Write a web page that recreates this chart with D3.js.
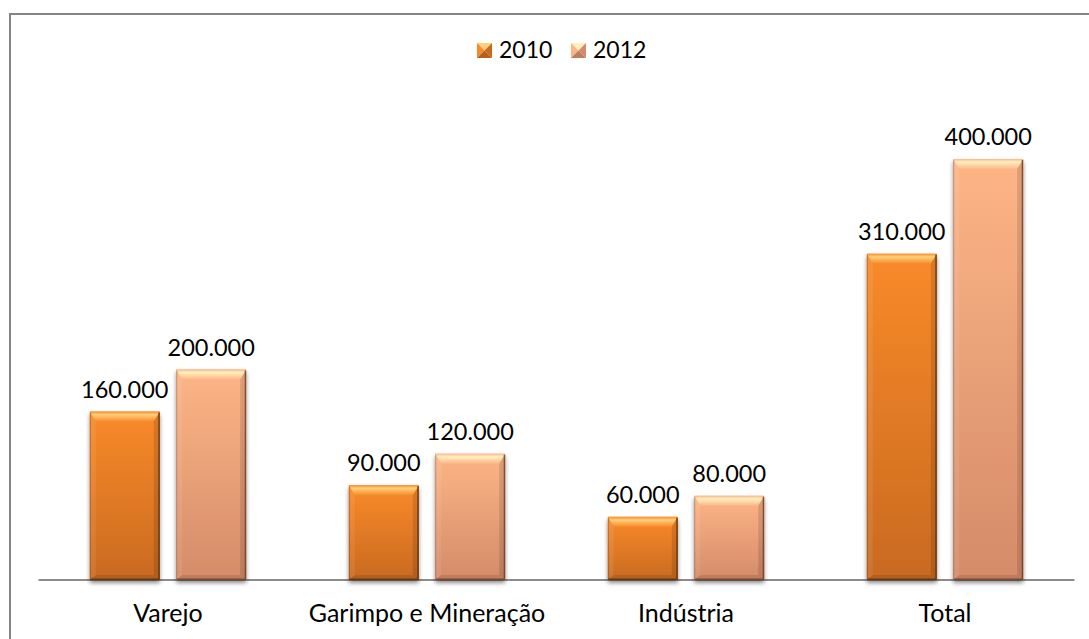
<!DOCTYPE html>
<html>
<head>
<meta charset="utf-8">
<script src="https://cdn.jsdelivr.net/npm/d3@7"></script>
<style>
  html, body { margin: 0; padding: 0; background: #fff; }
  svg { display: block; }
  text { font-family: Lato, "Open Sans", "DejaVu Sans", sans-serif; fill: #000; }
</style>
</head>
<body>
<svg id="chart" width="1089" height="639"></svg>
<script>
// Chart data
const categories = ["Varejo", "Garimpo e Mineração", "Indústria", "Total"];
const seriesNames = ["2010", "2012"];
const values2010 = [160000, 90000, 60000, 310000];
const values2012 = [200000, 120000, 80000, 400000];

const seriesValues = { "2010": values2010, "2012": values2012 };

// Fill palette per series: top, bottom, bevel highlight, edge
const palette = {
  "2010": { top: "#f98a2a", bottom: "#c96a21", hi: "#ffd07a", edge: "#5a2c08" },
  "2012": { top: "#fdb586", bottom: "#d48b69", hi: "#fff0c0", edge: "#6b3a22" }
};

const W = 1089, H = 639;
const svg = d3.select("#chart");
const defs = svg.append("defs");

// Number format with Brazilian thousands separator
const ptBR = d3.formatLocale({ decimal: ",", thousands: ".", grouping: [3], currency: ["R$", ""] });
const fmt = ptBR.format(",");

// Scales
const x0 = d3.scaleBand()
  .domain(categories)
  .range([38.5, 1074.5])
  .paddingInner(0.396)
  .paddingOuter(0.198);

const x1 = d3.scaleBand()
  .domain(seriesNames)
  .range([0, x0.bandwidth()])
  .paddingInner(0.19);

const y = d3.scaleLinear()
  .domain([0, 450000])
  .range([580, 106.4]);

// Gradients and shadow
seriesNames.forEach(s => {
  const p = palette[s];
  const g = defs.append("linearGradient").attr("id", "body" + s)
    .attr("x1", 0).attr("y1", 0).attr("x2", 0).attr("y2", 1);
  g.append("stop").attr("offset", "0%").attr("stop-color", p.top);
  g.append("stop").attr("offset", "100%").attr("stop-color", p.bottom);

  const t = defs.append("linearGradient").attr("id", "bevelTop" + s)
    .attr("x1", 0).attr("y1", 0).attr("x2", 0).attr("y2", 1);
  t.append("stop").attr("offset", "0%").attr("stop-color", p.top);
  t.append("stop").attr("offset", "30%").attr("stop-color", p.hi);
  t.append("stop").attr("offset", "100%").attr("stop-color", p.top);
});

const shadow = defs.append("filter").attr("id", "shadow")
  .attr("x", "-20%").attr("y", "-20%").attr("width", "140%").attr("height", "140%");
shadow.append("feDropShadow")
  .attr("dx", 0).attr("dy", 3).attr("stdDeviation", 2.2)
  .attr("flood-color", "#000").attr("flood-opacity", 0.45);

// Outer frame
svg.append("rect")
  .attr("x", 10).attr("y", 14)
  .attr("width", W + 20).attr("height", H + 20)
  .attr("fill", "none")
  .attr("stroke", "#858585")
  .attr("stroke-width", 2);

// Category axis line
svg.append("line")
  .attr("x1", x0.range()[0]).attr("x2", x0.range()[1])
  .attr("y1", y(0)).attr("y2", y(0))
  .attr("stroke", "#8c8c8c")
  .attr("stroke-width", 2);

// Bars with a soft bevel
const rows = [];
categories.forEach((c, i) => {
  seriesNames.forEach(s => rows.push({ cat: c, series: s, value: seriesValues[s][i] }));
});

const bars = svg.append("g").selectAll("g.bar")
  .data(rows)
  .join("g")
  .attr("class", "bar");

bars.each(function (d) {
  const g = d3.select(this);
  const p = palette[d.series];
  const bx = x0(d.cat) + x1(d.series);
  const bw = x1.bandwidth();
  const by = y(d.value);
  const bh = y(0) - by;
  const bt = 10, bs = 6, bb = 5;

  g.append("rect")
    .attr("x", bx).attr("y", by).attr("width", bw).attr("height", bh)
    .attr("fill", `url(#body${d.series})`)
    .attr("filter", "url(#shadow)");

  const pts = a => a.map(q => q.join(",")).join(" ");
  // top bevel
  g.append("polygon")
    .attr("points", pts([[bx, by], [bx + bw, by], [bx + bw - bs, by + bt], [bx + bs, by + bt]]))
    .attr("fill", `url(#bevelTop${d.series})`);
  // left bevel
  g.append("polygon")
    .attr("points", pts([[bx, by], [bx + bs, by + bt], [bx + bs, by + bh - bb], [bx, by + bh]]))
    .attr("fill", "#fff").attr("fill-opacity", 0.08);
  // right bevel
  g.append("polygon")
    .attr("points", pts([[bx + bw, by], [bx + bw - bs, by + bt], [bx + bw - bs, by + bh - bb], [bx + bw, by + bh]]))
    .attr("fill", "#000").attr("fill-opacity", 0.12);
  // bottom bevel
  g.append("polygon")
    .attr("points", pts([[bx, by + bh], [bx + bs, by + bh - bb], [bx + bw - bs, by + bh - bb], [bx + bw, by + bh]]))
    .attr("fill", "#000").attr("fill-opacity", 0.1);
  // dark edge on right and bottom
  g.append("path")
    .attr("d", `M${bx + bw - 0.75},${by + 1}V${by + bh - 0.75}H${bx + 0.5}`)
    .attr("fill", "none").attr("stroke", p.edge).attr("stroke-width", 1.5).attr("stroke-opacity", 0.8);
  g.append("path")
    .attr("d", `M${bx + 0.5},${by + bh}V${by + 1}`)
    .attr("fill", "none").attr("stroke", p.edge).attr("stroke-width", 1).attr("stroke-opacity", 0.35);

  // value label
  g.append("text")
    .attr("x", bx + bw / 2)
    .attr("y", by - 14)
    .attr("text-anchor", "middle")
    .attr("font-size", 23.5)
    .text(fmt(d.value));
});

// Category labels
svg.append("g").selectAll("text")
  .data(categories)
  .join("text")
  .attr("x", d => x0(d) + x0.bandwidth() / 2)
  .attr("y", 622)
  .attr("text-anchor", "middle")
  .attr("font-size", 25)
  .text(d => d);

// Legend with pyramid-shaded swatches
const legend = svg.append("g");
const legendX = [477, 571];
seriesNames.forEach((s, i) => {
  const p = palette[s];
  const lx = legendX[i], ly = 43, sz = 15, c = sz / 2;
  const lg = legend.append("g").attr("transform", `translate(${lx},${ly})`);
  const tri = (pts, fill) => lg.append("polygon").attr("points", pts.map(q => q.join(",")).join(" ")).attr("fill", fill);
  tri([[0, 0], [sz, 0], [c, c]], p.hi);
  tri([[0, 0], [c, c], [0, sz]], p.top);
  tri([[sz, 0], [sz, sz], [c, c]], p.bottom);
  tri([[0, sz], [c, c], [sz, sz]], d3.color(p.bottom).darker(0.3));
  lg.append("text")
    .attr("x", sz + 7)
    .attr("y", sz - 0.5)
    .attr("font-size", 23)
    .text(s);
});
</script>
</body>
</html>
